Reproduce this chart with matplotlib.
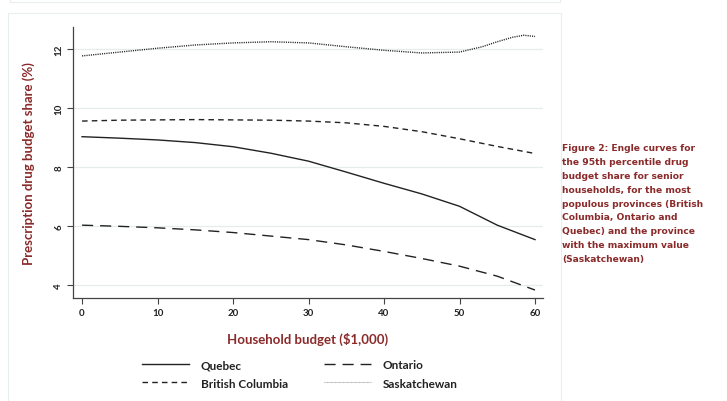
import matplotlib
matplotlib.use("Agg")
import matplotlib.pyplot as plt
from matplotlib.lines import Line2D
from matplotlib.patches import Rectangle

# ---- data ----
budget = [0, 5, 10, 15, 20, 25, 30, 35, 40, 45, 50, 55, 60]
quebec = [9.03, 8.98, 8.92, 8.83, 8.69, 8.47, 8.20, 7.83, 7.45, 7.09, 6.67, 6.03, 5.54]
ontario = [6.03, 5.99, 5.94, 5.87, 5.78, 5.66, 5.54, 5.36, 5.14, 4.90, 4.64, 4.30, 3.83]
british_columbia = [9.56, 9.59, 9.60, 9.61, 9.60, 9.59, 9.56, 9.50, 9.38, 9.20, 8.96, 8.70, 8.46]
sask_budget = [0, 5, 10, 15, 20, 25, 30, 35, 40, 45, 50, 53, 55, 57, 58.5, 60]
saskatchewan = [11.77, 11.90, 12.03, 12.14, 12.21, 12.25, 12.21, 12.08, 11.96, 11.87,
                11.90, 12.08, 12.25, 12.40, 12.47, 12.43]
x_ticks = [0, 10, 20, 30, 40, 50, 60]
y_ticks = [4, 6, 8, 10, 12]
labels = ["Quebec", "Ontario", "British Columbia", "Saskatchewan"]

dark_red = "#8a2a2a"
line_col = "#222222"
grid_col = "#e4eced"
label_font = ["Lato", "DejaVu Sans"]

fig = plt.figure(figsize=(7.27, 4.02), dpi=100)

# faint panel borders
fig.patches.append(Rectangle((10 / 727, 1 - 3 / 402), 550 / 727, 0.02, transform=fig.transFigure,
                             fill=False, edgecolor="#e8eded", lw=0.8))
fig.patches.append(Rectangle((8 / 727, -0.05), 553 / 727, 1 - 14 / 402 + 0.05, transform=fig.transFigure,
                             fill=False, edgecolor="#e8eded", lw=0.8))

ax = fig.add_axes([73 / 727, 1 - 299 / 402, (543 - 73) / 727, (299 - 28) / 402])

ax.plot(budget, quebec, color=line_col, lw=1.0, ls="-")
ax.plot(budget, ontario, color=line_col, lw=1.0, ls=(0, (8, 5)))
ax.plot(budget, british_columbia, color=line_col, lw=1.0, ls=(0, (4, 3)))
ax.plot(sask_budget, saskatchewan, color=line_col, lw=1.0, ls=(0, (0.8, 0.8)))

ax.set_xlim(-1.2, 61.06)
ax.set_ylim(3.56, 12.75)
ax.set_xticks(x_ticks)
ax.set_yticks(y_ticks)
ax.set_yticklabels([str(v) for v in y_ticks], rotation=90, va="center")
ax.tick_params(axis="both", labelsize=7, length=4, width=0.8, color="#444444", labelcolor="#222222", pad=3)
for t in ax.get_xticklabels() + ax.get_yticklabels():
    t.set_family(label_font)
    t.set_fontweight("bold")
ax.yaxis.grid(True, color=grid_col, lw=0.9)
ax.set_axisbelow(True)
for s in ["top", "right"]:
    ax.spines[s].set_visible(False)
for s in ["left", "bottom"]:
    ax.spines[s].set_color("#444444")
    ax.spines[s].set_linewidth(0.9)

ax.set_xlabel("Household budget ($1,000)", color=dark_red, fontsize=9.5, fontweight="bold",
              family=label_font, labelpad=11)
ax.set_ylabel("Prescription drug budget share (%)", color=dark_red, fontsize=9.5, fontweight="bold",
              family=label_font, labelpad=14)

handles = [
    Line2D([], [], color=line_col, lw=1.0, ls="-"),
    Line2D([], [], color=line_col, lw=1.0, ls=(0, (4, 3))),
    Line2D([], [], color=line_col, lw=1.0, ls=(0, (8, 5))),
    Line2D([], [], color="#999999", lw=0.8, ls=(0, (0.6, 0.6))),
]
order = [labels[0], labels[2], labels[1], labels[3]]
leg = fig.legend(handles, order, ncol=2, frameon=False,
                 prop={"family": label_font, "size": 8.5, "weight": "bold"},
                 loc="center left", bbox_to_anchor=(131 / 727, 1 - 375 / 402),
                 handlelength=4.0, handletextpad=1.0, columnspacing=3.05, labelspacing=0.6)
for t in leg.get_texts():
    t.set_color("#222222")

caption = ("Figure 2: Engle curves for\nthe 95th percentile drug\nbudget share for senior\n"
           "households, for the most\npopulous provinces (British\nColumbia, Ontario and\n"
           "Quebec) and the province\nwith the maximum value\n(Saskatchewan)")
fig.text(562 / 727, 1 - 144 / 402, caption, color=dark_red, fontsize=6.6, fontweight="bold",
         va="top", ha="left", linespacing=1.7)

fig.savefig("out.png", dpi=100)
